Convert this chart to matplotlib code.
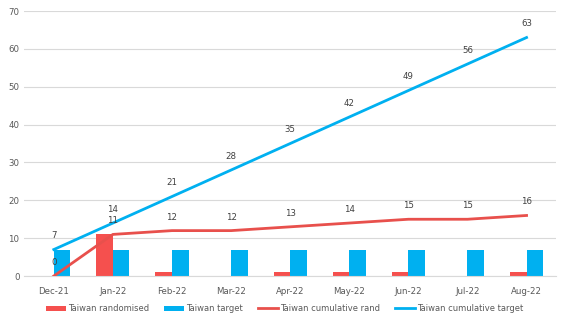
import numpy as np
import matplotlib.pyplot as plt

months = ['Dec-21', 'Jan-22', 'Feb-22', 'Mar-22', 'Apr-22', 'May-22', 'Jun-22', 'Jul-22', 'Aug-22']
randomised = [0, 11, 1, 0, 1, 1, 1, 0, 1]
target = [7, 7, 7, 7, 7, 7, 7, 7, 7]
cum_rand = [0, 11, 12, 12, 13, 14, 15, 15, 16]
cum_target = [7, 14, 21, 28, 35, 42, 49, 56, 63]

red = '#F5504E'
blue = '#00B0F0'
text_col = '#595959'

fig = plt.figure(figsize=(5.64, 3.24), dpi=100)
ax = fig.add_axes([0.043, 0.148, 0.943, 0.818])

x = np.arange(len(months))
w = 0.28
b1 = ax.bar(x - w / 2, randomised, w, color=red, zorder=2)
b2 = ax.bar(x + w / 2, target, w, color=blue, zorder=2)
l1, = ax.plot(x, cum_rand, color='#E8504C', lw=2, zorder=3)
l2, = ax.plot(x, cum_target, color=blue, lw=2, zorder=3)

for xi, v in zip(x, cum_rand):
    ax.annotate(str(v), (xi, v), xytext=(0, 8), textcoords='offset points',
                ha='center', fontsize=6.2, color='#404040')
for xi, v in zip(x, cum_target):
    ax.annotate(str(v), (xi, v), xytext=(0, 8), textcoords='offset points',
                ha='center', fontsize=6.2, color='#404040')

ax.set_xlim(-0.5, len(months) - 0.5)
ax.set_ylim(0, 70)
ax.set_yticks(range(0, 71, 10))
ax.set_xticks(x)
ax.set_xticklabels(months)
ax.tick_params(axis='both', length=0, labelsize=6.2, colors=text_col)
ax.tick_params(axis='x', pad=8)
ax.grid(axis='y', color='#D9D9D9', lw=0.8, zorder=0)
for s in ['top', 'right', 'left']:
    ax.spines[s].set_visible(False)
ax.spines['bottom'].set_color('#D9D9D9')

fig.legend([b1, b2, l1, l2],
           ['Taiwan randomised', 'Taiwan target', 'Taiwan cumulative rand', 'Taiwan cumulative target'],
           loc='lower center', ncol=4, frameon=False, fontsize=6,
           bbox_to_anchor=(0.505, 0.01), handlelength=2.4, handleheight=0.6,
           handletextpad=0.25, columnspacing=1.8, labelcolor=text_col)

fig.savefig('out.png')
